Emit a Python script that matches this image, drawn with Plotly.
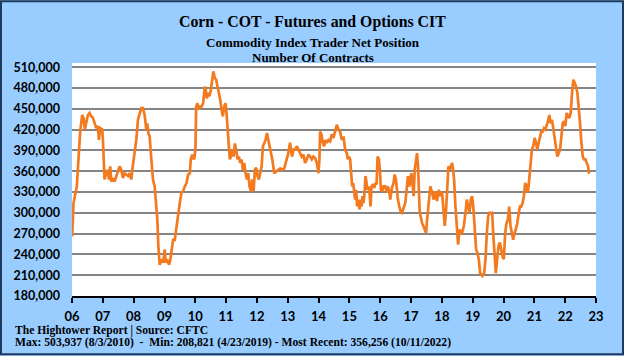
import plotly.graph_objects as go
import pandas as pd

# Decimal-year positions and net position values (contracts)
year_pos = [
    2006.005, 2006.049, 2006.114, 2006.157, 2006.222, 2006.266, 2006.331, 2006.374, 2006.417, 2006.461,
    2006.515, 2006.569, 2006.623, 2006.678, 2006.732, 2006.786, 2006.840, 2006.873, 2006.916, 2006.981,
    2007.003, 2007.035, 2007.057, 2007.111, 2007.165, 2007.198, 2007.241, 2007.274, 2007.328, 2007.382,
    2007.436, 2007.491, 2007.545, 2007.599, 2007.653, 2007.707, 2007.762, 2007.816, 2007.870, 2007.924,
    2007.957, 2008.000, 2008.033, 2008.087, 2008.141, 2008.195, 2008.249, 2008.304, 2008.358, 2008.412,
    2008.444, 2008.477, 2008.520, 2008.575, 2008.629, 2008.683, 2008.737, 2008.770, 2008.802, 2008.846,
    2008.900, 2008.954, 2009.008, 2009.041, 2009.084, 2009.149, 2009.192, 2009.236, 2009.279, 2009.333,
    2009.387, 2009.442, 2009.496, 2009.550, 2009.604, 2009.658, 2009.713, 2009.767, 2009.821, 2009.853,
    2009.897, 2009.929, 2009.962, 2010.005, 2010.027, 2010.070, 2010.114, 2010.157, 2010.200, 2010.255,
    2010.309, 2010.341, 2010.374, 2010.417, 2010.461, 2010.504, 2010.547, 2010.586, 2010.634, 2010.678,
    2010.721, 2010.764, 2010.808, 2010.851, 2010.894, 2010.938, 2010.981, 2011.014, 2011.046, 2011.089,
    2011.122, 2011.154, 2011.198, 2011.241, 2011.284, 2011.328, 2011.371, 2011.415, 2011.458, 2011.501,
    2011.545, 2011.588, 2011.632, 2011.675, 2011.718, 2011.762, 2011.805, 2011.848, 2011.892, 2011.935,
    2011.978, 2012.022, 2012.065, 2012.108, 2012.152, 2012.195, 2012.238, 2012.282, 2012.325, 2012.369,
    2012.412, 2012.455, 2012.499, 2012.564, 2012.629, 2012.694, 2012.759, 2012.824, 2012.889, 2012.911,
    2012.965, 2013.019, 2013.073, 2013.106, 2013.138, 2013.182, 2013.236, 2013.290, 2013.344, 2013.398,
    2013.453, 2013.507, 2013.561, 2013.615, 2013.670, 2013.724, 2013.778, 2013.832, 2013.886, 2013.941,
    2013.995, 2014.027, 2014.049, 2014.092, 2014.136, 2014.179, 2014.222, 2014.266, 2014.320, 2014.374,
    2014.428, 2014.482, 2014.537, 2014.591, 2014.645, 2014.699, 2014.753, 2014.808, 2014.862, 2014.916,
    2014.948, 2014.981, 2015.024, 2015.057, 2015.090, 2015.122, 2015.155, 2015.187, 2015.220, 2015.252,
    2015.296, 2015.328, 2015.361, 2015.393, 2015.426, 2015.458, 2015.491, 2015.523, 2015.556, 2015.588,
    2015.621, 2015.653, 2015.686, 2015.718, 2015.762, 2015.805, 2015.849, 2015.881, 2015.914, 2015.957,
    2015.989, 2016.022, 2016.065, 2016.108, 2016.163, 2016.217, 2016.250, 2016.293, 2016.326, 2016.380,
    2016.434, 2016.467, 2016.510, 2016.542, 2016.575, 2016.618, 2016.662, 2016.705, 2016.759, 2016.813,
    2016.868, 2016.900, 2016.943, 2016.976, 2017.009, 2017.052, 2017.084, 2017.117, 2017.160, 2017.193,
    2017.225, 2017.247, 2017.280, 2017.312, 2017.355, 2017.399, 2017.442, 2017.485, 2017.529, 2017.572,
    2017.626, 2017.681, 2017.735, 2017.789, 2017.843, 2017.897, 2017.952, 2018.006, 2018.060, 2018.093,
    2018.136, 2018.179, 2018.212, 2018.255, 2018.298, 2018.331, 2018.364, 2018.396, 2018.439, 2018.483,
    2018.526, 2018.570, 2018.613, 2018.656, 2018.711, 2018.765, 2018.808, 2018.851, 2018.895, 2018.938,
    2018.981, 2019.025, 2019.068, 2019.111, 2019.155, 2019.198, 2019.241, 2019.285, 2019.310, 2019.372,
    2019.415, 2019.458, 2019.502, 2019.545, 2019.631, 2019.664, 2019.707, 2019.750, 2019.794, 2019.837,
    2019.881, 2019.924, 2019.967, 2020.011, 2020.054, 2020.097, 2020.141, 2020.184, 2020.227, 2020.271,
    2020.314, 2020.358, 2020.401, 2020.444, 2020.488, 2020.531, 2020.574, 2020.618, 2020.661, 2020.704,
    2020.748, 2020.791, 2020.834, 2020.878, 2020.921, 2020.965, 2021.008, 2021.051, 2021.095, 2021.138,
    2021.181, 2021.225, 2021.268, 2021.311, 2021.355, 2021.398, 2021.442, 2021.485, 2021.528, 2021.572,
    2021.615, 2021.658, 2021.702, 2021.745, 2021.788, 2021.832, 2021.875, 2021.918, 2021.962, 2022.005,
    2022.049, 2022.092, 2022.135, 2022.179, 2022.222, 2022.265, 2022.309, 2022.352, 2022.395, 2022.439,
    2022.482, 2022.526, 2022.569, 2022.612, 2022.656, 2022.699, 2022.742, 2022.775,
]

net_position = [
    266000, 314000, 329000, 338000, 386000, 417000, 441000, 437000, 420000, 432000,
    441000, 444000, 439000, 437000, 429000, 422000, 425000, 405000, 422000, 420000,
    405000, 377000, 348000, 357000, 362000, 348000, 367000, 345000, 350000, 345000,
    353000, 362000, 367000, 362000, 350000, 357000, 355000, 353000, 357000, 348000,
    362000, 377000, 386000, 405000, 434000, 444000, 451000, 451000, 441000, 420000,
    429000, 415000, 410000, 377000, 348000, 338000, 314000, 290000, 252000, 225000,
    233000, 228000, 247000, 228000, 233000, 225000, 233000, 252000, 261000, 261000,
    281000, 300000, 314000, 329000, 331000, 338000, 343000, 355000, 357000, 377000,
    384000, 379000, 377000, 391000, 453000, 458000, 449000, 453000, 453000, 458000,
    482000, 477000, 465000, 473000, 468000, 477000, 492000, 503937, 494000, 492000,
    482000, 473000, 463000, 449000, 439000, 453000, 458000, 444000, 415000, 396000,
    377000, 381000, 391000, 381000, 400000, 391000, 377000, 381000, 372000, 377000,
    362000, 372000, 357000, 348000, 357000, 338000, 331000, 348000, 331000, 362000,
    365000, 353000, 348000, 357000, 367000, 396000, 401000, 405000, 415000, 405000,
    396000, 391000, 377000, 357000, 360000, 362000, 364000, 362000, 364000, 367000,
    377000, 386000, 401000, 391000, 381000, 391000, 391000, 396000, 391000, 386000,
    381000, 384000, 372000, 377000, 384000, 381000, 377000, 381000, 379000, 372000,
    357000, 377000, 417000, 413000, 401000, 396000, 405000, 401000, 405000, 403000,
    413000, 408000, 420000, 427000, 420000, 417000, 405000, 410000, 391000, 386000,
    377000, 381000, 377000, 353000, 338000, 343000, 333000, 319000, 333000, 309000,
    319000, 305000, 319000, 309000, 324000, 314000, 329000, 353000, 343000, 333000,
    338000, 329000, 309000, 338000, 341000, 336000, 343000, 341000, 381000, 377000,
    362000, 333000, 331000, 338000, 338000, 329000, 338000, 331000, 319000, 336000,
    343000, 355000, 348000, 329000, 319000, 309000, 302000, 300000, 309000, 314000,
    338000, 353000, 338000, 348000, 357000, 338000, 324000, 362000, 381000, 386000,
    367000, 338000, 300000, 295000, 285000, 281000, 276000, 271000, 295000, 319000,
    338000, 329000, 319000, 331000, 317000, 333000, 324000, 329000, 300000, 281000,
    305000, 338000, 367000, 362000, 367000, 372000, 362000, 348000, 309000, 281000,
    254000, 276000, 271000, 271000, 281000, 300000, 319000, 309000, 300000, 319000,
    324000, 305000, 271000, 247000, 242000, 233000, 213000, 211000, 208821, 213000,
    233000, 271000, 295000, 300000, 300000, 271000, 233000, 213000, 233000, 252000,
    257000, 247000, 237000, 233000, 271000, 285000, 290000, 309000, 281000, 271000,
    261000, 271000, 276000, 285000, 300000, 309000, 309000, 314000, 324000, 343000,
    338000, 329000, 348000, 377000, 391000, 396000, 408000, 401000, 391000, 401000,
    410000, 417000, 417000, 422000, 420000, 425000, 432000, 441000, 429000, 434000,
    420000, 405000, 391000, 381000, 386000, 391000, 410000, 429000, 432000, 425000,
    444000, 439000, 437000, 444000, 473000, 492000, 487000, 482000, 473000, 453000,
    429000, 401000, 381000, 377000, 377000, 372000, 367000, 356256,
]

tick_years = list(range(2006, 2024))
tick_labels = [f"{y % 100:02d}" for y in tick_years]
y_ticks = list(range(180000, 510001, 30000))

title_text = "Corn - COT - Futures and Options CIT"
subtitle_lines = ["Commodity Index Trader Net Position", "Number Of Contracts"]
footer_lines = [
    "The Hightower Report | Source: CFTC",
    "Max: 503,937 (8/3/2010)  -  Min: 208,821 (4/23/2019) - Most Recent: 356,256 (10/11/2022)",
]

def to_date(v):
    y = int(v)
    start = pd.Timestamp(year=y, month=1, day=1)
    return start + pd.Timedelta(days=(v - y) * 365.25)

dates = [to_date(v) for v in year_pos]
tick_dates = [pd.Timestamp(year=y, month=1, day=1) for y in tick_years]

W, H = 624, 356
ML, MR, MT, MB = 72, 28, 63, 59.5
PW, PH = W - ML - MR, H - MT - MB

def px_x(p):
    return (p - ML) / PW

def px_y(p):
    return (H - MB - p) / PH

fig = go.Figure()
fig.add_trace(go.Scatter(
    x=dates, y=net_position, mode="lines",
    line=dict(color="#F37A1F", width=2.7),
    hoverinfo="skip", showlegend=False,
))

serif = "Liberation Serif"
sans = "Lato"

fig.update_layout(
    width=W, height=H,
    margin=dict(l=ML, r=MR, t=MT, b=MB, pad=0),
    paper_bgcolor="#99CCFF",
    plot_bgcolor="#FFFFFF",
    showlegend=False,
    xaxis=dict(
        range=[tick_dates[0], tick_dates[-1]],
        tickvals=tick_dates, ticktext=tick_labels,
        showgrid=False, zeroline=False,
        showline=True, linecolor="#000000", linewidth=1.5,
        ticks="outside", ticklen=5, tickwidth=1.5, tickcolor="#000000",
        tickfont=dict(family=sans, size=13, color="#000000", weight="bold"),
        ticklabelstandoff=3,
    ),
    yaxis=dict(
        range=[180000, 516000],
        tickvals=y_ticks,
        ticktext=[f"{v:,}" for v in y_ticks],
        showgrid=True, gridcolor="#858585", gridwidth=1.6,
        zeroline=False, showline=False, ticks="",
        tickfont=dict(family=sans, size=12.5, color="#000000", weight="bold"),
        ticklabelstandoff=11,
    ),
)

cx = px_x(312.5)
annotations = [
    dict(text=f"<b>{title_text}</b>", x=cx, y=px_y(21.5), xref="paper", yref="paper",
         xanchor="center", yanchor="middle", showarrow=False,
         font=dict(family=serif, size=15.8, color="#000000")),
    dict(text=f"<b>{subtitle_lines[0]}</b>", x=cx, y=px_y(42), xref="paper", yref="paper",
         xanchor="center", yanchor="middle", showarrow=False,
         font=dict(family=serif, size=13, color="#000000")),
    dict(text=f"<b>{subtitle_lines[1]}</b>", x=cx, y=px_y(57.5), xref="paper", yref="paper",
         xanchor="center", yanchor="middle", showarrow=False,
         font=dict(family=serif, size=13, color="#000000")),
    dict(text=f"<b>{footer_lines[0]}</b>", x=px_x(13), y=px_y(331.5), xref="paper", yref="paper",
         xanchor="left", yanchor="middle", showarrow=False,
         font=dict(family=serif, size=11.6, color="#000000")),
    dict(text=f"<b>{footer_lines[1]}</b>", x=px_x(13), y=px_y(343.5), xref="paper", yref="paper",
         xanchor="left", yanchor="middle", showarrow=False,
         font=dict(family=serif, size=11.6, color="#000000")),
]
fig.update_layout(annotations=annotations)

fig.add_shape(type="rect", xref="paper", yref="paper",
              x0=px_x(1), x1=px_x(W - 1), y0=px_y(H - 1), y1=px_y(1),
              line=dict(color="#1F3A5C", width=2), fillcolor="rgba(0,0,0,0)", layer="above")

fig.write_html(
    "out.html",
    config={"displayModeBar": False},
    post_script="document.body.style.margin='0';document.body.style.overflow='hidden';",
)
